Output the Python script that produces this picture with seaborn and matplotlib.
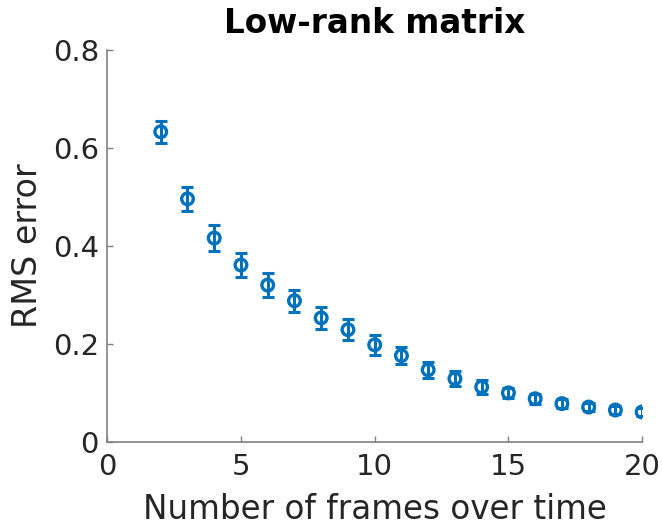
import numpy as np
import pandas as pd
import matplotlib
matplotlib.use("Agg")
import matplotlib.pyplot as plt
import seaborn as sns

# Number of frames and RMS error (mean +/- error bar)
frames = [2, 3, 4, 5, 6, 7, 8, 9, 10, 11, 12, 13, 14, 15, 16, 17, 18, 19, 20]
rms_err = [0.633, 0.496, 0.416, 0.361, 0.320, 0.288, 0.253, 0.229, 0.198, 0.176,
           0.147, 0.129, 0.112, 0.100, 0.088, 0.078, 0.071, 0.065, 0.061]
err_bar = [0.022, 0.025, 0.026, 0.025, 0.024, 0.023, 0.022, 0.021, 0.020, 0.018,
           0.016, 0.015, 0.014, 0.010, 0.010, 0.009, 0.008, 0.008, 0.008]

df = pd.DataFrame({"frames": frames, "rms": rms_err, "err": err_bar})

sns.set_style("ticks")
plt.rcParams["font.family"] = ["DejaVu Sans"]
blue = "#0072BD"
grey = "#262626"

fig = plt.figure(figsize=(6.62, 5.26), dpi=100)
ax = fig.add_axes([0.162, 0.16, 0.808, 0.745])

ax.errorbar(df["frames"], df["rms"], yerr=df["err"], fmt="none",
            ecolor=blue, elinewidth=2.2, capsize=4.5, capthick=2.2, zorder=2)
sns.scatterplot(x="frames", y="rms", data=df, ax=ax, marker="o", s=70,
                facecolor="none", edgecolor=blue, linewidth=2.4, zorder=3)

ax.set_xlim(0, 20)
ax.set_ylim(0, 0.8)
ax.set_xticks([0, 5, 10, 15, 20])
ax.set_yticks([0, 0.2, 0.4, 0.6, 0.8])
ax.set_yticklabels(["0", "0.2", "0.4", "0.6", "0.8"])

ax.set_xlabel("Number of frames over time", fontsize=23.5, color=grey, labelpad=9)
ax.set_ylabel("RMS error", fontsize=24, color=grey, labelpad=6)
ax.set_title("Low-rank matrix", fontsize=23.5, fontweight="bold", color="black", pad=12)

sns.despine(ax=ax)
for s in ["left", "bottom"]:
    ax.spines[s].set_color("#808080")
    ax.spines[s].set_linewidth(1.2)
ax.tick_params(direction="in", length=4, width=1, colors="#808080",
               labelsize=21, labelcolor=grey, pad=6)
ax.tick_params(axis="x", pad=8)

fig.savefig("out.png", dpi=100)
